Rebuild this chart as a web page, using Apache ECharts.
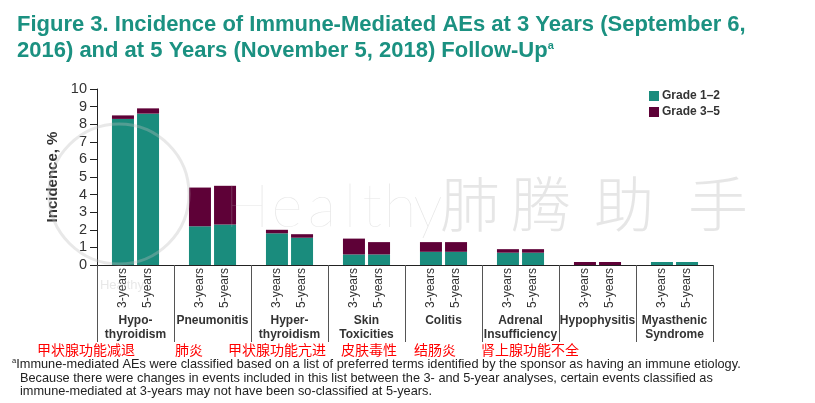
<!DOCTYPE html>
<html>
<head>
<meta charset="utf-8">
<script src="https://cdn.jsdelivr.net/npm/echarts@6/dist/echarts.min.js"></script>
<style>
html,body{margin:0;padding:0;background:#fff;}
#chart{width:815px;height:403px;}
</style>
</head>
<body>
<div id="chart"></div>
<script>
const categories = ['Hypo-\nthyroidism','Pneumonitis','Hyper-\nthyroidism','Skin\nToxicities','Colitis','Adrenal\nInsufficiency','Hypophysitis','Myasthenic\nSyndrome'];
const grade12_3y = [8.3, 2.2, 1.8, 0.6, 0.75, 0.7, 0, 0.17];
const grade35_3y = [0.2, 2.2, 0.2, 0.9, 0.55, 0.2, 0.17, 0];
const grade12_5y = [8.6, 2.3, 1.55, 0.6, 0.75, 0.7, 0, 0.17];
const grade35_5y = [0.3, 2.2, 0.2, 0.7, 0.55, 0.2, 0.17, 0];
const yTicks = [0,1,2,3,4,5,6,7,8,9,10];
const chineseLabels = ['甲状腺功能减退','肺炎','甲状腺功能亢进','皮肤毒性','结肠炎','肾上腺功能不全'];
const titleLine1 = 'Figure 3. Incidence of Immune-Mediated AEs at 3 Years (September 6,';
const titleLine2 = '2016) and at 5 Years (November 5, 2018) Follow-Up';
const footLines = [
  'Immune-mediated AEs were classified based on a list of preferred terms identified by the sponsor as having an immune etiology.',
  'Because there were changes in events included in this list between the 3- and 5-year analyses, certain events classified as',
  'immune-mediated at 3-years may not have been so-classified at 5-years.'
];

const FONT = "'Liberation Sans', Arial, sans-serif";
const TEAL = '#1a8c7d';
const PURPLE = '#5e0137';
const chineseX = [86, 189, 277, 369, 435, 530];

const chart = echarts.init(document.getElementById('chart'), null, {renderer:'canvas'});

function barLabel(txt){
  return {
    show: true, position: 'bottom', distance: 3, rotate: 90,
    align: 'right', verticalAlign: 'middle',
    formatter: txt, fontSize: 12, color: '#333', fontFamily: FONT
  };
}

const graphics = [];
// watermark circle
graphics.push({type:'circle', shape:{cx:119, cy:194, r:70}, style:{fill:'none', stroke:'rgba(190,190,190,0.35)', lineWidth:3}, z:100, silent:true});
graphics.push({type:'text', x:122, y:285, style:{text:'Healthy', font:'13px '+FONT, fill:'rgba(190,190,190,0.35)', textAlign:'center', textVerticalAlign:'middle'}, z:100, silent:true});
const wm = [['H',247],['e',287],['a',322],['l',350],['t',372],['h',400],['y',428],['肺',470],['腾',541],['助',624],['手',718]];
wm.forEach(w=>{
  graphics.push({type:'text', x:w[1], y:208, style:{text:w[0], font:'200 60px Lato, "Noto Sans CJK SC", sans-serif', fill:'rgba(185,185,185,0.36)', textAlign:'center', textVerticalAlign:'middle'}, z:100, silent:true});
});
// chinese labels
chineseLabels.forEach((t,i)=>{
  graphics.push({type:'text', x:chineseX[i], y:350, style:{text:t, font:'14px "Noto Sans CJK SC", sans-serif', fill:'#ff0000', textAlign:'center', textVerticalAlign:'middle'}});
});
// title
graphics.push({type:'text', x:17, y:25, style:{text:titleLine1, font:'bold 22px '+FONT, fill:'#1b9181', textVerticalAlign:'middle'}});
graphics.push({type:'text', x:17, y:51, style:{
  text:'{t|'+titleLine2+'}{s|a}',
  rich:{t:{font:'bold 22px '+FONT, fill:'#1b9181'}, s:{font:'bold 11px '+FONT, fill:'#1b9181', padding:[0,0,10,0]}},
  textVerticalAlign:'middle'}});
// footnote
graphics.push({type:'text', x:12, y:364, style:{
  text:'{s|a}{t|'+footLines[0]+'}',
  rich:{t:{font:'13.5px '+FONT, fill:'#222'}, s:{font:'8px '+FONT, fill:'#222', padding:[0,0,6,0]}},
  textVerticalAlign:'middle'}, scaleX:0.945});
graphics.push({type:'text', x:20, y:378, style:{text:footLines[1], font:'13.5px '+FONT, fill:'#222', textVerticalAlign:'middle'}, scaleX:0.945});
graphics.push({type:'text', x:20, y:391, style:{text:footLines[2], font:'13.5px '+FONT, fill:'#222', textVerticalAlign:'middle'}, scaleX:0.945});

const option = {
  animation: false,
  backgroundColor: '#fff',
  textStyle: {fontFamily: FONT},
  legend: {
    data: ['Grade 1–2','Grade 3–5'],
    orient: 'vertical', left: 644, top: 85,
    itemWidth: 10, itemHeight: 10, itemGap: 4,
    icon: 'rect',
    textStyle: {fontSize: 12, fontWeight: 'bold', color: '#333', fontFamily: FONT, padding:[0,0,0,-2]}
  },
  grid: {left: 97, right: 102, top: 89, bottom: 138, containLabel: false},
  xAxis: {
    type: 'category', data: categories, boundaryGap: true,
    axisLine: {lineStyle: {color: '#222', width: 1}},
    axisTick: {show: true, length: 77, lineStyle: {color: '#555', width: 1}},
    axisLabel: {margin: 49, fontSize: 12, fontWeight: 'bold', color: '#333', lineHeight: 14, verticalAlign: 'top', fontFamily: FONT, interval: 0}
  },
  yAxis: {
    type: 'value', min: 0, max: 10, interval: 1,
    name: 'Incidence, %', nameLocation: 'middle', nameGap: 36, nameRotate: 90,
    nameTextStyle: {fontSize: 15, fontWeight: 'bold', color: '#333', fontFamily: FONT},
    axisLine: {show: true, lineStyle: {color: '#222'}},
    axisTick: {show: true, length: 7, lineStyle: {color: '#222'}},
    splitLine: {show: false},
    axisLabel: {fontSize: 14.5, color: '#333', margin: 10, fontFamily: FONT}
  },
  series: [
    {name:'Grade 1–2', type:'bar', stack:'s3', data: grade12_3y, barWidth:22, barGap:'14%', itemStyle:{color:TEAL}, label: barLabel('3-years')},
    {name:'Grade 3–5', type:'bar', stack:'s3', data: grade35_3y, barWidth:22, barGap:'14%', itemStyle:{color:PURPLE}},
    {name:'Grade 1–2', type:'bar', stack:'s5', data: grade12_5y, barWidth:22, barGap:'14%', itemStyle:{color:TEAL}, label: barLabel('5-years')},
    {name:'Grade 3–5', type:'bar', stack:'s5', data: grade35_5y, barWidth:22, barGap:'14%', itemStyle:{color:PURPLE}}
  ],
  graphic: graphics
};
chart.setOption(option);
</script>
</body>
</html>
